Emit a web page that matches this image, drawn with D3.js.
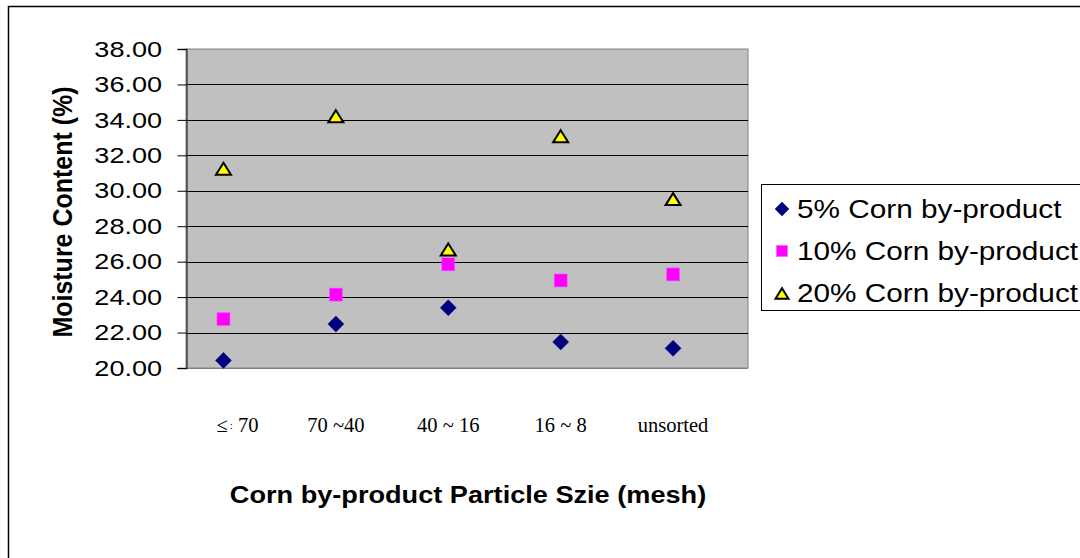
<!DOCTYPE html>
<html>
<head>
<meta charset="utf-8">
<script src="https://cdn.jsdelivr.net/npm/d3@7"></script>
<style>
  html, body { margin: 0; padding: 0; background: #fff; }
  svg { display: block; }
</style>
</head>
<body>
<svg id="chart" width="1080" height="558"></svg>
<script>
// Particle size classes (mesh) along the horizontal axis
const categories = ["≤ : 70", "70 ~40", "40 ~ 16", "16 ~ 8", "unsorted"];
const categoryIndex = [1, 2, 3, 4, 5];

// Moisture content (%) per corn by-product level
const series5 = [20.43, 22.48, 23.40, 21.47, 21.11];
const series10 = [22.76, 24.14, 25.85, 24.94, 25.28];
const series20 = [31.24, 34.21, 26.69, 33.08, 29.53];

const seriesNames = ["5% Corn by-product", "10% Corn by-product", "20% Corn by-product"];
const yTickValues = [20, 22, 24, 26, 28, 30, 32, 34, 36, 38];

const svg = d3.select("#chart");
const SANS = "'Liberation Sans', Arial, sans-serif";
const SERIF = "'Liberation Serif', 'Times New Roman', serif";

const plot = { left: 186, right: 748, top: 49, bottom: 368 };

const x = d3.scaleLinear().domain([2 / 3, 17 / 3]).range([plot.left, plot.right]);
const y = d3.scaleLinear().domain([20, 38]).range([plot.bottom, plot.top]);

// outer chart frame
svg.append("rect")
  .attr("x", 8.5).attr("y", 6.5).attr("width", 1200).attr("height", 700)
  .attr("fill", "#fff").attr("stroke", "#000").attr("stroke-width", 1.5);

// plot background
svg.append("rect")
  .attr("x", plot.left).attr("y", plot.top)
  .attr("width", plot.right - plot.left).attr("height", plot.bottom - plot.top)
  .attr("fill", "#c0c0c0").attr("stroke", "#808080").attr("stroke-width", 1);

// horizontal gridlines
svg.append("g")
  .selectAll("line")
  .data(yTickValues.filter(v => v > 20 && v < 38))
  .join("line")
  .attr("x1", plot.left).attr("x2", plot.right)
  .attr("y1", d => Math.round(y(d)) + 0.5).attr("y2", d => Math.round(y(d)) + 0.5)
  .attr("stroke", "#000").attr("stroke-width", 1);

// bottom axis line
svg.append("line")
  .attr("x1", plot.left).attr("x2", plot.right)
  .attr("y1", plot.bottom + 0.5).attr("y2", plot.bottom + 0.5)
  .attr("stroke", "#808080").attr("stroke-width", 1.2);

// y axis
const yAxis = d3.axisLeft(y).tickValues(yTickValues).tickSize(9).tickFormat(d3.format(".2f"));
const yAxisG = svg.append("g")
  .attr("transform", `translate(${plot.left + 0.5},0)`)
  .call(yAxis);
yAxisG.select(".domain").attr("stroke", "#404040").attr("stroke-width", 1.5);
yAxisG.selectAll(".tick line").attr("stroke", "#000");
yAxisG.selectAll(".tick text").remove();

// tick labels, stretched horizontally
svg.append("g")
  .selectAll("text")
  .data(yTickValues)
  .join("text")
  .attr("transform", d => `translate(162,${y(d)}) scale(1.27,1)`)
  .attr("text-anchor", "end")
  .attr("dy", "0.36em")
  .attr("font-family", SANS)
  .attr("font-size", 21.3)
  .attr("fill", "#000")
  .text(d => d3.format(".2f")(d));

// category labels
const catG = svg.append("g");
categories.forEach((c, i) => {
  const t = catG.append("text")
    .attr("x", x(categoryIndex[i]) + (i === 0 ? 14 : 0))
    .attr("y", 432)
    .attr("text-anchor", "middle")
    .attr("font-family", SERIF)
    .attr("font-size", 20.5)
    .attr("fill", "#000");
  if (c.indexOf(":") >= 0) {
    const parts = c.split(":");
    t.append("tspan").text(parts[0].trim());
    t.append("tspan").attr("font-size", 11).attr("dy", -3).attr("dx", 2).text(":");
    t.append("tspan").attr("dy", 3).text(parts[1]);
  } else {
    t.text(c);
  }
});

// axis titles
svg.append("text")
  .attr("transform", "translate(468,503) scale(1.15,1)")
  .attr("text-anchor", "middle")
  .attr("font-family", SANS)
  .attr("font-weight", "bold")
  .attr("font-size", 23.6)
  .attr("fill", "#000")
  .text("Corn by-product Particle Szie (mesh)");

svg.append("text")
  .attr("transform", "translate(72,212) scale(1.12,1) rotate(-90)")
  .attr("text-anchor", "middle")
  .attr("font-family", SANS)
  .attr("font-weight", "bold")
  .attr("font-size", 25)
  .attr("fill", "#000")
  .text("Moisture Content (%)");

// marker drawers
function diamond(g, cx, cy, r) {
  g.append("path")
    .attr("d", `M${cx},${cy - r}L${cx + r},${cy}L${cx},${cy + r}L${cx - r},${cy}Z`)
    .attr("fill", "#000080").attr("stroke", "#000080").attr("stroke-width", 0.5);
}
function square(g, cx, cy, s) {
  g.append("rect")
    .attr("x", cx - s / 2).attr("y", cy - s / 2).attr("width", s).attr("height", s)
    .attr("fill", "#ff00ff").attr("stroke", "#ff55ff").attr("stroke-width", 0.6);
}
function triangle(g, cx, cy, w, h) {
  g.append("path")
    .attr("d", `M${cx},${cy - h / 2}L${cx + w / 2},${cy + h / 2}L${cx - w / 2},${cy + h / 2}Z`)
    .attr("fill", "#ffff00").attr("stroke", "#000").attr("stroke-width", 2)
    .attr("stroke-linejoin", "miter");
}

const marks = svg.append("g");
series5.forEach((v, i) => diamond(marks, x(categoryIndex[i]), y(v), 8));
series10.forEach((v, i) => square(marks, x(categoryIndex[i]), y(v), 13));
series20.forEach((v, i) => triangle(marks, x(categoryIndex[i]), y(v), 15, 12));

// legend
const legend = svg.append("g");
legend.append("rect")
  .attr("x", 761.5).attr("y", 184.5).attr("width", 400).attr("height", 126)
  .attr("fill", "#fff").attr("stroke", "#000").attr("stroke-width", 1);

const legendRows = [209, 251, 293];
diamond(legend, 782, legendRows[0], 7);
square(legend, 782, legendRows[1], 11);
triangle(legend, 782, legendRows[2] + 0.5, 13, 10.5);

legend.selectAll("text.item")
  .data(seriesNames)
  .join("text")
  .attr("class", "item")
  .attr("transform", (d, i) => `translate(797,${legendRows[i] + 8.5}) scale(1.19,1)`)
  .attr("font-family", SANS)
  .attr("font-size", 25)
  .attr("fill", "#000")
  .text(d => d);
</script>
</body>
</html>
